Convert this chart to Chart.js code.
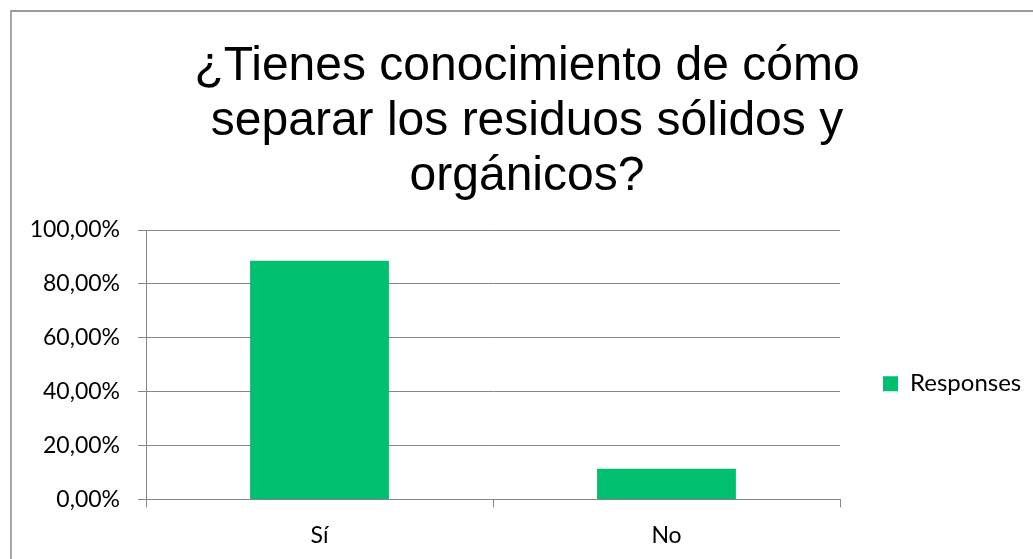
<!DOCTYPE html>
<html>
<head>
<meta charset="utf-8">
<script src="https://cdn.jsdelivr.net/npm/chart.js@4.4.0/dist/chart.umd.min.js"></script>
<style>
html, body { margin: 0; padding: 0; background: #fff; overflow: hidden; }
#frame { position: absolute; left: 10px; top: 10px; width: 1100px; height: 600px; border-left: 2px solid #a6a6a6; border-top: 2px solid #9a9a9a; }
#wrap { position: absolute; left: 11px; top: 11px; width: 1032px; height: 556px; }
</style>
</head>
<body>
<div id="frame"></div>
<div id="wrap"><canvas id="chart" width="1032" height="556"></canvas></div>
<script>
var titleLines = ['¿Tienes conocimiento de cómo', 'separar los residuos sólidos y', 'orgánicos?'];
var categories = ['Sí', 'No'];
var responses = [88.6, 11.4];
var seriesName = 'Responses';

var gridColor = '#868686';
var tickFont = { family: 'Lato', size: 23 };

// nudge the legend so it sits like the Excel one (left of its box, a bit lower)
var legendNudge = {
    id: 'legendNudge',
    afterLayout(chart) {
        const lg = chart.legend;
        lg.left -= 14; lg.right -= 14;
        lg.top += 19; lg.bottom += 19;
    }
};

var ctx = document.getElementById('chart').getContext('2d');
var chart = new Chart(ctx, {
    type: 'bar',
    data: {
        labels: categories,
        datasets: [{
            label: seriesName,
            data: responses,
            backgroundColor: '#00bf6f',
            borderWidth: 0,
            barPercentage: 0.4,
            categoryPercentage: 1
        }]
    },
    plugins: [legendNudge],
    options: {
        responsive: false,
        animation: false,
        layout: { padding: { left: 0, right: 0, top: 0, bottom: 4 } },
        plugins: {
            title: {
                display: true,
                text: titleLines,
                color: '#000',
                font: { family: 'Liberation Sans', size: 48, weight: 'normal', lineHeight: 1.146 },
                padding: { top: 28, bottom: 26 }
            },
            legend: {
                position: 'right',
                fullSize: false,
                maxWidth: 203,
                labels: {
                    color: '#000',
                    font: { family: 'Lato', size: 24 },
                    boxWidth: 15,
                    boxHeight: 15,
                    padding: 57
                }
            },
            tooltip: { enabled: false }
        },
        scales: {
            x: {
                grid: { drawOnChartArea: false, color: gridColor, tickLength: 8, offset: true },
                border: { color: gridColor },
                ticks: { color: '#000', font: tickFont, padding: 14 }
            },
            y: {
                min: 0,
                max: 100,
                afterFit: function(scale) { scale.width = 135; },
                grid: { color: gridColor, tickLength: 8 },
                border: { color: gridColor },
                ticks: {
                    stepSize: 20,
                    color: '#000',
                    font: tickFont,
                    padding: 18,
                    callback: function(value) {
                        return value.toFixed(2).replace('.', ',') + '%';
                    }
                }
            }
        }
    }
});
</script>
</body>
</html>
